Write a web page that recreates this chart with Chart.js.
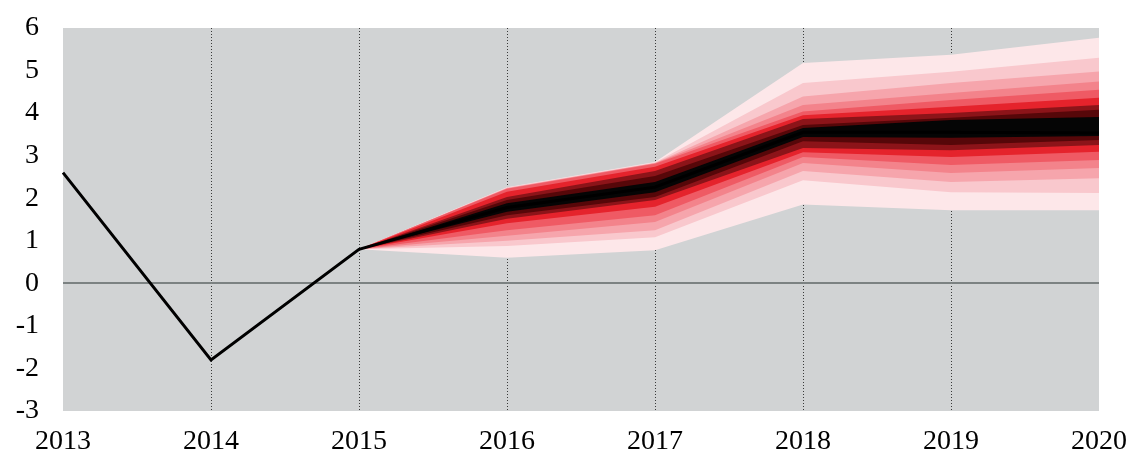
<!DOCTYPE html>
<html>
<head>
<meta charset="utf-8">
<script src="https://cdn.jsdelivr.net/npm/chart.js@4/dist/chart.umd.min.js"></script>
<style>
  html, body { margin: 0; padding: 0; background: #ffffff; }
  #wrap { width: 1130px; height: 452px; }
</style>
</head>
<body>
<div id="wrap"><canvas id="fan" width="1130" height="452"></canvas></div>
<script>
// Years on the horizontal axis
const years = ['2013', '2014', '2015', '2016', '2017', '2018', '2019', '2020'];

// Outturn and central projection
const path = [2.6, -1.8, 0.8, 1.78, 2.26, 3.55, 3.55, 3.53];

// Fan band edges, outermost (u1/l1) to innermost (u9/l9)
const u1 = [null, null, 0.8, 2.26, 2.85, 5.18, 5.37, 5.77];
const u2 = [null, null, 0.8, 2.25, 2.84, 4.71, 4.97, 5.30];
const u3 = [null, null, 0.8, 2.24, 2.83, 4.39, 4.71, 4.98];
const u4 = [null, null, 0.8, 2.23, 2.82, 4.19, 4.47, 4.74];
const u5 = [null, null, 0.8, 2.22, 2.81, 4.04, 4.31, 4.55];
const u6 = [null, null, 0.8, 2.15, 2.74, 3.95, 4.15, 4.36];
const u7 = [null, null, 0.8, 2.03, 2.64, 3.86, 4.00, 4.19];
const u8 = [null, null, 0.8, 1.96, 2.52, 3.72, 3.89, 4.08];
const u9 = [null, null, 0.8, 1.88, 2.38, 3.65, 3.84, 3.91];
const l9 = [null, null, 0.8, 1.68, 2.14, 3.44, 3.42, 3.46];
const l8 = [null, null, 0.8, 1.60, 2.03, 3.34, 3.25, 3.37];
const l7 = [null, null, 0.8, 1.52, 1.96, 3.18, 3.13, 3.25];
const l6 = [null, null, 0.8, 1.41, 1.80, 3.08, 2.97, 3.09];
const l5 = [null, null, 0.8, 1.25, 1.60, 2.97, 2.78, 2.90];
const l4 = [null, null, 0.8, 1.12, 1.44, 2.83, 2.59, 2.71];
const l3 = [null, null, 0.8, 1.00, 1.25, 2.64, 2.38, 2.47];
const l2 = [null, null, 0.8, 0.88, 1.08, 2.42, 2.14, 2.12];
const l1 = [null, null, 0.8, 0.60, 0.78, 1.85, 1.72, 1.72];

// Y-axis tick range
const yTicks = { min: -3, max: 6, step: 1 };

// Band colours from outer to inner
const bandColors = ['#fde7e9', '#f9c8cd', '#f6a5ac', '#f3838b', '#ef5a64',
                    '#e5232c', '#8c1419', '#560709', '#050505'];
const uppers = [u1, u2, u3, u4, u5, u6, u7, u8, u9];
const lowers = [l1, l2, l3, l4, l5, l6, l7, l8, l9];

const datasets = [];
// central line on top
datasets.push({
  data: path, borderColor: '#000000', borderWidth: 3, pointRadius: 0,
  tension: 0, fill: false, order: 0
});
// each band: upper edge filled down to its lower edge
for (let i = 0; i < uppers.length; i++) {
  const order = uppers.length - i;
  const upperIndex = datasets.length;
  datasets.push({
    data: uppers[i], borderWidth: 0, borderColor: 'rgba(0,0,0,0)', pointRadius: 0,
    tension: 0, backgroundColor: bandColors[i],
    fill: { target: upperIndex + 1 }, order: order
  });
  datasets.push({
    data: lowers[i], borderWidth: 0, borderColor: 'rgba(0,0,0,0)', pointRadius: 0,
    tension: 0, fill: false, order: order
  });
}

const plotBackground = {
  id: 'plotBackground',
  beforeDraw(chart) {
    const { ctx, chartArea: a } = chart;
    ctx.save();
    ctx.fillStyle = '#d1d3d4';
    ctx.fillRect(a.left, a.top, a.right - a.left, a.bottom - a.top);
    ctx.restore();
  }
};

const tickFont = { family: "'Liberation Serif', 'DejaVu Serif', serif", size: 28 };

new Chart(document.getElementById('fan'), {
  type: 'line',
  data: { labels: years, datasets: datasets },
  options: {
    responsive: false,
    animation: false,
    events: [],
    layout: { padding: { top: 28, right: 31, left: 0, bottom: 0 } },
    plugins: { legend: { display: false }, tooltip: { enabled: false } },
    scales: {
      x: {
        offset: false,
        afterFit(scale) {
          scale.height = 41;
          scale.paddingLeft = 0;
          scale.paddingRight = 0;
        },
        grid: {
          drawTicks: false,
          lineWidth: 1,
          color(ctx) {
            const i = ctx.index;
            return (i === 0 || i === years.length - 1) ? 'rgba(0,0,0,0)' : '#3a3a3a';
          }
        },
        border: { display: false, dash: [1, 2] },
        ticks: { color: '#000000', font: tickFont, padding: 14, autoSkip: false, maxRotation: 0 }
      },
      y: {
        min: yTicks.min, max: yTicks.max,
        afterFit(scale) {
          scale.width = 63;
          scale.paddingTop = 0;
          scale.paddingBottom = 0;
        },
        grid: {
          drawTicks: false,
          lineWidth(ctx) { return ctx.tick && ctx.tick.value === 0 ? 2 : 0; },
          color(ctx) { return ctx.tick && ctx.tick.value === 0 ? '#7c8282' : 'rgba(0,0,0,0)'; }
        },
        border: { display: false },
        ticks: { stepSize: yTicks.step, color: '#000000', font: tickFont, padding: 24 }
      }
    }
  },
  plugins: [plotBackground]
});
</script>
</body>
</html>
